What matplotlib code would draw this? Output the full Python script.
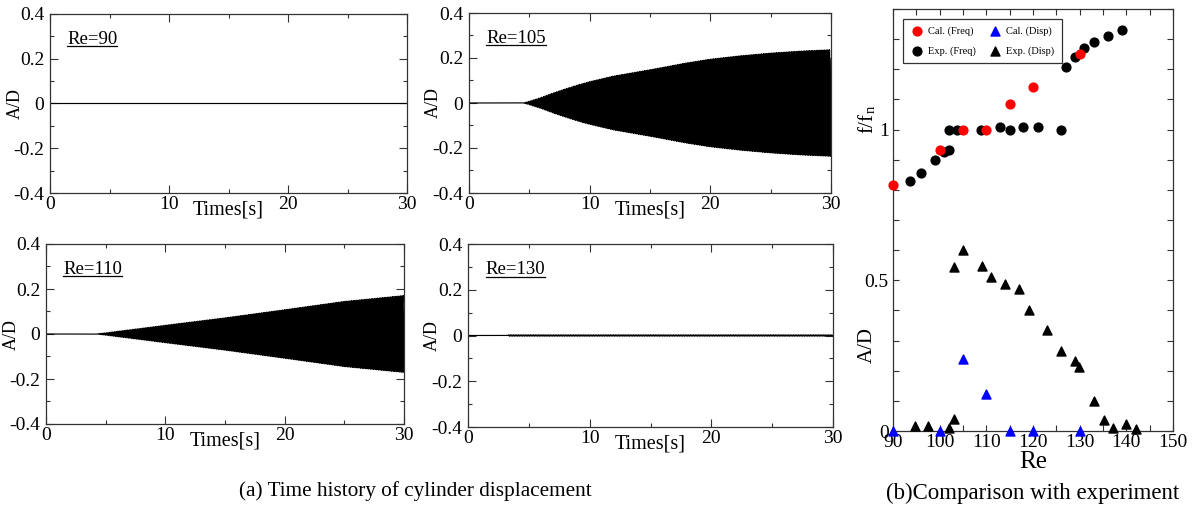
import numpy as np
import matplotlib.pyplot as plt
from matplotlib.lines import Line2D
from matplotlib.ticker import MultipleLocator, FixedLocator

plt.rcParams['font.family'] = ['Liberation Serif', 'DejaVu Serif']
plt.rcParams['mathtext.fontset'] = 'stix'

# ---- (a) time histories: envelope (time [s], A/D) ----
re_labels = ["Re=90", "Re=105", "Re=110", "Re=130"]
env_t_90 = [0.0, 30.0]
env_a_90 = [0.0, 0.0]
env_t_105 = [4.5, 5.0, 6.0, 7.0, 8.0, 9.0, 10.0, 12.0, 15.0, 18.0, 20.0, 22.5, 25.0, 27.5, 30.0]
env_a_105 = [0.0, 0.008, 0.025, 0.045, 0.063, 0.08, 0.095, 0.12, 0.148, 0.178, 0.195,
             0.21, 0.222, 0.231, 0.237]
env_t_110 = [4.2, 10.0, 15.0, 20.0, 25.0, 30.0]
env_a_110 = [0.0, 0.039, 0.072, 0.108, 0.145, 0.171]
env_t_130 = [3.3, 30.0]
env_a_130 = [0.003, 0.003]
osc_freq = 7.3  # Hz, oscillation inside the envelope

# ---- (b) comparison with experiment ----
cal_freq_re = [90, 100, 105, 110, 115, 120, 130]
cal_freq_f = [0.816, 0.931, 0.998, 1.0, 1.085, 1.141, 1.250]
exp_freq_re = [93.6, 96.0, 99.0, 101.0, 102.0, 102.0, 103.8, 108.8, 113.0, 115.0,
               117.9, 121.0, 125.9, 127.0, 129.0, 131.0, 133.0, 136.0, 139.0]
exp_freq_f = [0.831, 0.856, 0.900, 0.927, 0.933, 0.999, 0.999, 1.0, 1.009, 1.0,
              1.009, 1.009, 1.0, 1.209, 1.240, 1.270, 1.289, 1.310, 1.330]
cal_disp_re = [90, 100, 105, 110, 115, 120, 130]
cal_disp_ad = [0.0, 0.0, 0.240, 0.124, 0.0, 0.0, 0.0]
exp_disp_re = [94.8, 97.4, 102.0, 103.1, 103.0, 105.1, 109.1, 111.1, 114.0, 117.1,
               119.2, 123.1, 126.1, 129.0, 129.9, 133.1, 135.2, 137.2, 140.0, 142.0]
exp_disp_ad = [0.016, 0.016, 0.009, 0.040, 0.543, 0.600, 0.549, 0.512, 0.487, 0.470,
               0.401, 0.335, 0.264, 0.232, 0.213, 0.100, 0.036, 0.011, 0.022, 0.005]

W, H = 1196, 511
fig = plt.figure(figsize=(W / 100, H / 100), dpi=100)


def px_rect(x0, y0, x1, y1):
    return [x0 / W, 1 - y1 / H, (x1 - x0) / W, (y1 - y0) / H]


spine_c = '#333333'
rects = [px_rect(50, 14, 407, 193), px_rect(469, 13, 831, 193),
         px_rect(46, 244, 404, 424), px_rect(468, 244, 833, 427)]
envs = [(env_t_90, env_a_90), (env_t_105, env_a_105),
        (env_t_110, env_a_110), (env_t_130, env_a_130)]

t = np.arange(0, 30.0001, 0.002)
labels = []
for rect, (et, ea), lab in zip(rects, envs, re_labels):
    ax = fig.add_axes(rect)
    amp = np.interp(t, et, ea, left=0.0)
    y = np.where(t >= et[0], amp * np.sin(2 * np.pi * osc_freq * (t - et[0])), 0.0)
    ax.plot(t, y, color='black', lw=0.85)
    ax.set_xlim(0, 30)
    ax.set_ylim(-0.4, 0.4)
    ax.xaxis.set_major_locator(MultipleLocator(10))
    ax.xaxis.set_minor_locator(MultipleLocator(5))
    ax.yaxis.set_major_locator(MultipleLocator(0.2))
    ax.yaxis.set_minor_locator(MultipleLocator(0.1))
    ax.yaxis.set_major_formatter(lambda v, p: '0' if abs(v) < 1e-9 else f'{v:.1f}')
    ax.tick_params(which='both', direction='in', top=True, right=True,
                   labelsize=14, color=spine_c, width=0.8)
    ax.tick_params(which='major', length=5.5)
    ax.tick_params(which='minor', length=3)
    ax.tick_params(axis='x', pad=2)
    ax.tick_params(axis='y', pad=4)
    for s in ax.spines.values():
        s.set_color(spine_c)
        s.set_linewidth(0.9)
    ax.set_ylabel('A/D', fontsize=13)
    ax.yaxis.set_label_coords(-0.074, 0.5)
    ax.set_xlabel('Times[s]', fontsize=14.5)
    ax.xaxis.set_label_coords(0.5, -0.04)
    txt = ax.text(0.048, 0.835, lab, transform=ax.transAxes, fontsize=13.5,
                  va='baseline', ha='left')
    labels.append(txt)

# ---- right panel ----
axr = fig.add_axes(px_rect(893, 9, 1173, 431))
axr.scatter(exp_disp_re, exp_disp_ad, marker='^', s=42, color='black',
            label='Exp. (Disp)', zorder=3, clip_on=False)
axr.scatter(cal_disp_re, cal_disp_ad, marker='^', s=42, color='blue',
            label='Cal. (Disp)', zorder=4, clip_on=False)
axr.scatter(exp_freq_re, exp_freq_f, marker='o', s=40, color='black',
            label='Exp. (Freq)', zorder=3)
axr.scatter(cal_freq_re, cal_freq_f, marker='o', s=40, color='red',
            label='Cal. (Freq)', zorder=4, clip_on=False)
axr.set_xlim(90, 150)
axr.set_ylim(0, 1.4)
axr.xaxis.set_major_locator(MultipleLocator(10))
axr.xaxis.set_minor_locator(MultipleLocator(5))
axr.yaxis.set_major_locator(FixedLocator([0, 0.5, 1.0]))
axr.yaxis.set_minor_locator(MultipleLocator(0.1))
axr.yaxis.set_major_formatter(lambda v, p: {0: '0', 0.5: '0.5', 1.0: '1'}.get(round(v, 1), ''))
axr.tick_params(which='both', direction='in', top=True, right=True,
                labelsize=14, color=spine_c, width=0.8, length=4)
axr.tick_params(axis='x', pad=2)
axr.tick_params(axis='y', pad=3)
for s in axr.spines.values():
    s.set_color(spine_c)
    s.set_linewidth(0.9)
axr.set_xlabel('Re', fontsize=18, labelpad=0)
tr = axr.get_yaxis_transform()
axr.text(-0.093, 0.285, 'A/D', transform=tr, rotation=90, fontsize=15,
         ha='center', va='center')
axr.text(-0.093, 1.035, r'f/f$_\mathregular{n}$', transform=tr, rotation=90,
         fontsize=15, ha='center', va='center')

h, l = axr.get_legend_handles_labels()
order = [l.index('Cal. (Freq)'), l.index('Exp. (Freq)'),
         l.index('Cal. (Disp)'), l.index('Exp. (Disp)')]
leg = axr.legend([h[i] for i in order], [l[i] for i in order], ncol=2,
                 loc='upper left', bbox_to_anchor=(0.036, 0.976), borderaxespad=0,
                 fontsize=7.5, fancybox=False, framealpha=1, edgecolor=spine_c,
                 handletextpad=0.4, columnspacing=1.2, borderpad=0.7,
                 labelspacing=1.0, handlelength=1.3)
leg.get_frame().set_linewidth(0.9)

fig.text(415 / W, 1 - 491 / H, '(a) Time history of cylinder displacement',
         fontsize=15.3, ha='center', va='center')
fig.text(1033 / W, 1 - 493 / H, '(b)Comparison with experiment',
         fontsize=16.5, ha='center', va='center')

# underline the Re labels
fig.canvas.draw()
renderer = fig.canvas.get_renderer()
for txt in labels:
    bb = txt.get_window_extent(renderer).transformed(fig.transFigure.inverted())
    yl = bb.y0 + 1.5 / H
    fig.add_artist(Line2D([bb.x0, bb.x1], [yl, yl], color='black', lw=0.9,
                          transform=fig.transFigure))

fig.savefig('out.png', dpi=100)
